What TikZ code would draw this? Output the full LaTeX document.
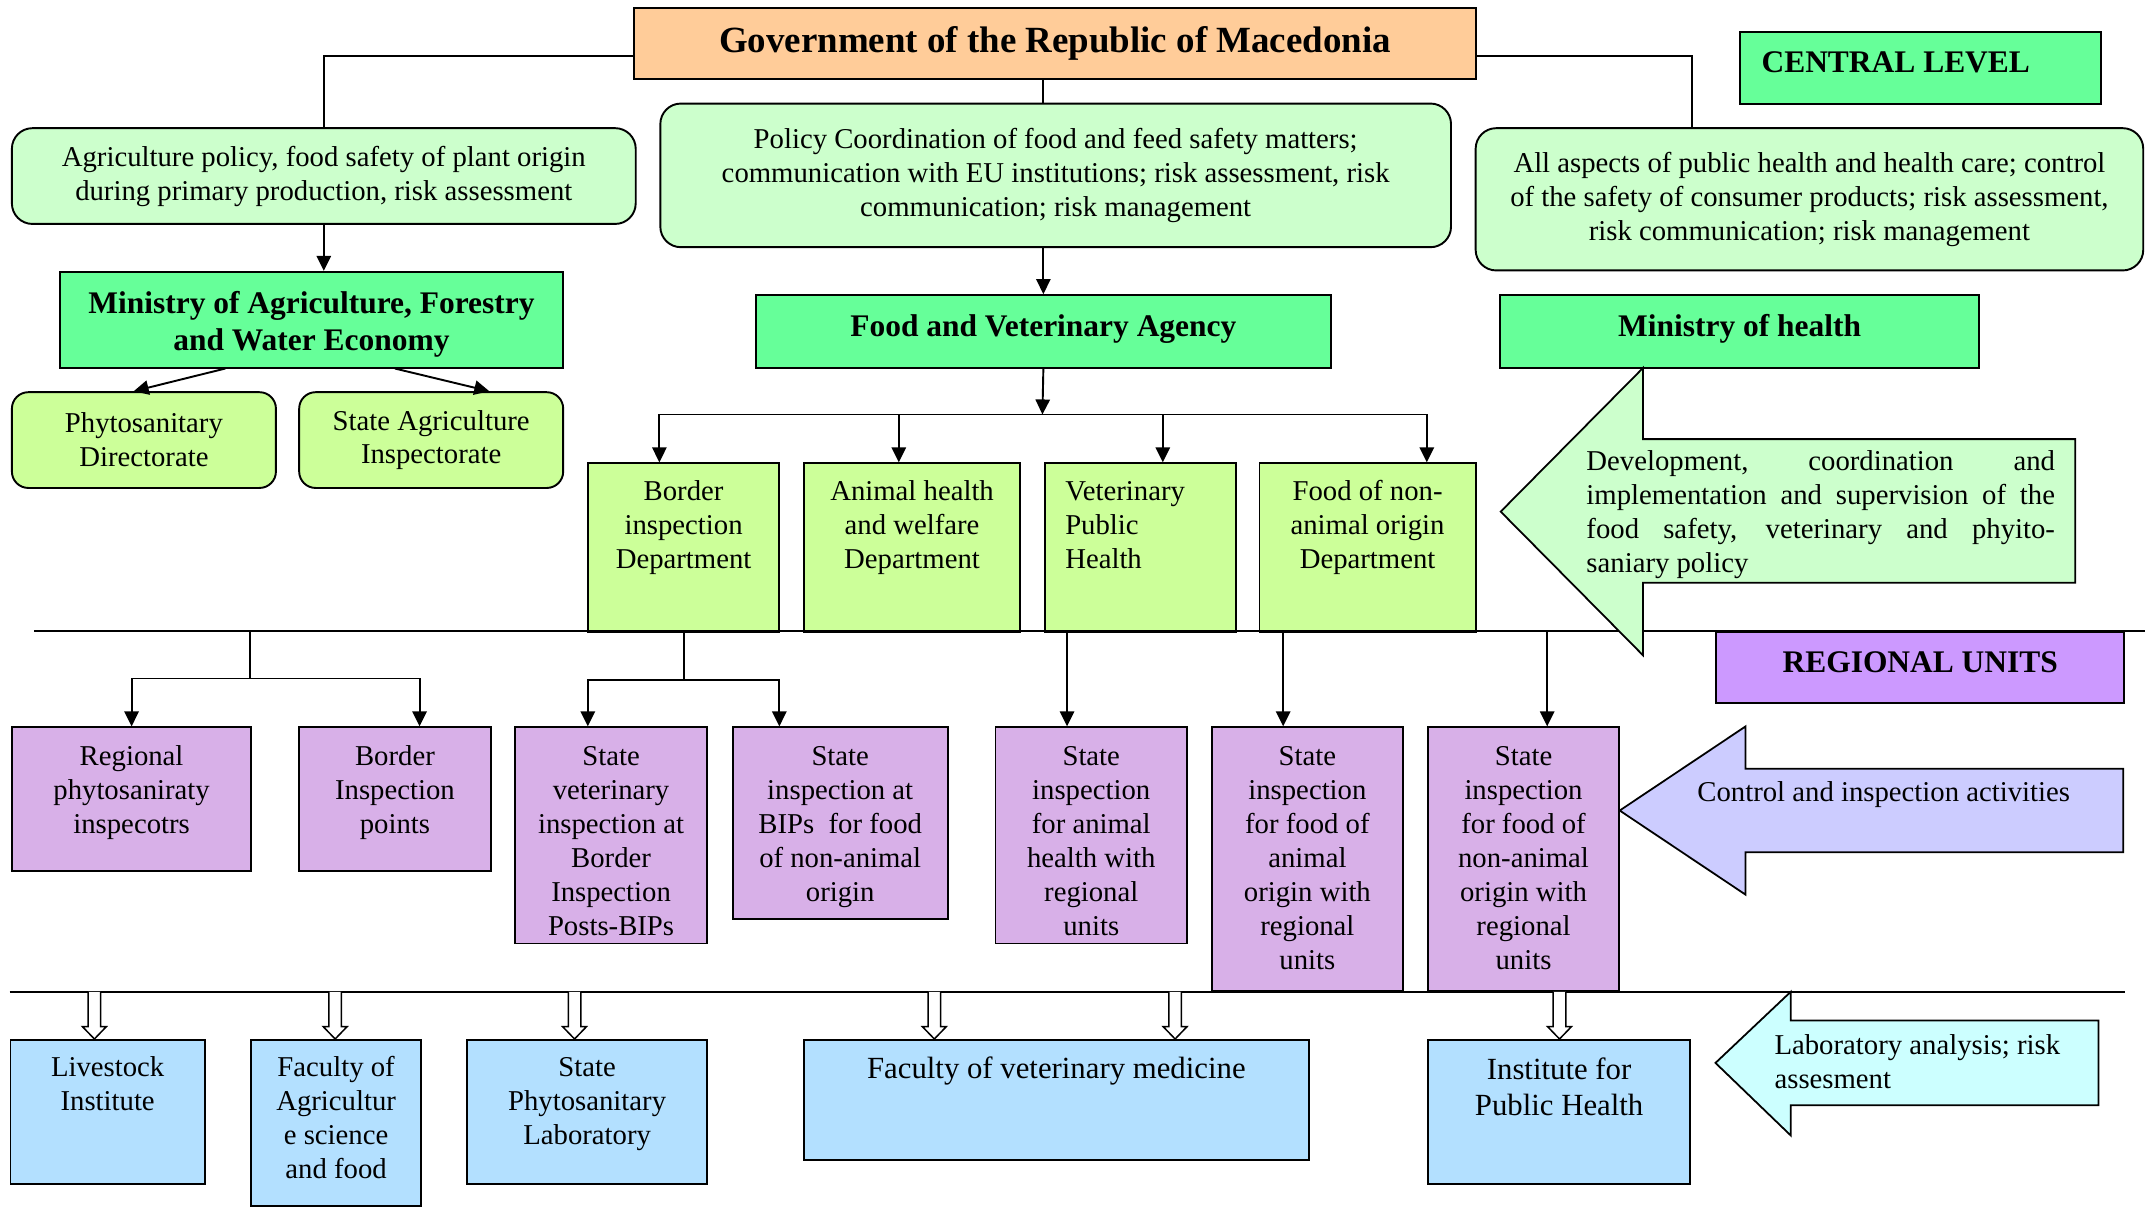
\documentclass[tikz,border=0pt]{standalone}
\usepackage{fontspec}
\setmainfont{Liberation Serif}
\usetikzlibrary{arrows.meta,calc}
\definecolor{govc}{HTML}{FFCC99}
\definecolor{grn}{HTML}{66FF99}
\definecolor{lgrn}{HTML}{CCFFCC}
\definecolor{ygrn}{HTML}{CCFF99}
\definecolor{purp}{HTML}{D8B0E8}
\definecolor{regc}{HTML}{CC99FF}
\definecolor{ctrl}{HTML}{CCCCFF}
\definecolor{labc}{HTML}{CCFFFF}
\definecolor{blu}{HTML}{B3E0FF}
\newcommand{\tbx}[4]{\parbox[c][#2][t]{#1}{\centering\rule{0pt}{#3}#4\par}}
\newcommand{\tbl}[5]{\parbox[c][#2][t]{#1}{\raggedright\leftskip=#5\rule{0pt}{#3}#4\par}}
\newcommand{\hol}[1]{\draw[hol,shift={(#1,725)}] (-4.6,0) -- (-4.6,25.5) -- (-8.7,25.5) -- (0,34.5) -- (8.7,25.5) -- (4.6,25.5) -- (4.6,0);}
\begin{document}
\begin{tikzpicture}[x=1pt,y=-1pt,
  bx/.style={draw=black,line width=1.4pt,inner sep=0pt,anchor=north west},
  rbx/.style={bx,rounded corners=15pt,align=center},
  reg/.style={font={\fontsize{21}{24.8}\selectfont}},
  big/.style={font={\fontsize{22.5}{26}\selectfont}},
  hd/.style={font={\fontsize{23}{26.8}\selectfont\bfseries}},
  con/.style={line width=1.4pt},
  arr/.style={con,-{Triangle[length=11pt,width=10.5pt]}},
  hol/.style={line width=1.1pt,fill=white},
  bigarrow/.style={draw=black,line width=1.3pt},
]
\useasboundingbox (0,0) rectangle (1568,882);

% ---- central level ----
\node[bx,fill=govc,minimum width=615pt,minimum height=52pt,font={\fontsize{27}{30}\selectfont\bfseries}] (gov) at (463,5) {Government of the Republic of Macedonia};
\node[bx,fill=grn,hd] (central) at (1271,23) {\tbl{264pt}{52pt}{29pt}{CENTRAL LEVEL}{16pt}};

\node[rbx,fill=lgrn,reg,minimum width=456pt,minimum height=70pt] (agri) at (8,93) {Agriculture policy, food safety of plant origin\\during primary production, risk assessment};
\node[rbx,fill=lgrn,reg,minimum width=578pt,minimum height=105pt] (policy) at (482,75) {Policy Coordination of food and feed safety matters;\\communication with EU institutions; risk assessment, risk\\communication; risk management};
\node[rbx,fill=lgrn,reg,minimum width=488pt,minimum height=104pt] (health) at (1078,93) {All aspects of public health and health care; control\\of the safety of consumer products; risk assessment,\\risk communication; risk management};

\node[bx,fill=grn,hd] (mafwe) at (43,198) {\tbx{368pt}{70pt}{30.5pt}{Ministry of Agriculture, Forestry\\and Water Economy}};
\node[bx,fill=grn,hd] (fva) at (552,215) {\tbx{420pt}{53pt}{30pt}{Food and Veterinary Agency}};
\node[bx,fill=grn,hd] (moh) at (1096,215) {\tbx{350pt}{53pt}{30pt}{Ministry of health}};

\node[rbx,rounded corners=12pt,fill=ygrn,reg,minimum width=193pt,minimum height=70pt] (phyto) at (8,286) {Phytosanitary\\Directorate};
\node[rbx,rounded corners=12pt,fill=ygrn,reg,minimum width=193pt,minimum height=70pt] (sai) at (218,286) {State Agriculture\\Inspectorate};

\node[bx,fill=ygrn,reg] (border) at (429,338) {\tbx{140pt}{123pt}{27.5pt}{Border\\inspection\\Department}};
\node[bx,fill=ygrn,reg] (animal) at (587,338) {\tbx{158pt}{123pt}{27.5pt}{Animal health\\and welfare\\Department}};
\node[bx,fill=ygrn,reg] (vph) at (763,338) {\tbl{140pt}{123pt}{27.5pt}{Veterinary\\Public\\Health}{15pt}};
\node[bx,fill=ygrn,reg] (fnao) at (920,338) {\tbx{158pt}{123pt}{27.5pt}{Food of non-\\animal origin\\Department}};

% ---- connectors, central ----
\draw[con] ([yshift=-9pt]gov.west) -| (agri.north);
\draw[con] ([yshift=-9pt]gov.east) -| ([xshift=-86pt]health.north);
\draw[con] (gov.south -| fva.north) -- (policy.north -| fva.north);
\draw[arr] (policy.south -| fva.north) -- (fva.north);
\draw[arr] (agri.south) -- (agri.south |- mafwe.north);
\draw[arr] ([xshift=-63pt]mafwe.south) -- ([xshift=-7.5pt]phyto.north);
\draw[arr] ([xshift=61pt]mafwe.south) -- ([xshift=42.5pt]sai.north);

\coordinate (bus) at (762,303);
\coordinate (d1) at (482,303);
\coordinate (d2) at (657,303);
\coordinate (d3) at (850,303);
\coordinate (d4) at (1043,303);
\draw[arr] (fva.south) -- (bus);
\draw[con] (d1) -- (d4);
\draw[arr] (d1) -- (d1 |- border.north);
\draw[arr] (d2) -- (d2 |- animal.north);
\draw[arr] (d3) -- (d3 |- vph.north);
\draw[arr] (d4) -- (d4 |- fnao.north);

% ---- regional level ----
\coordinate (rl0) at (25,461);
\coordinate (rl1) at (1568,461);
\draw[con] (rl0) -- (rl1);

\node[bx,fill=regc,hd] (regional) at (1254,461) {\tbx{298pt}{52pt}{30pt}{REGIONAL UNITS}};

\node[bx,fill=purp,reg] (p1) at (8,531) {\tbx{175pt}{105pt}{28pt}{Regional\\phytosaniraty\\inspecotrs}};
\node[bx,fill=purp,reg] (p2) at (218,531) {\tbx{140pt}{105pt}{28pt}{Border\\Inspection\\points}};
\node[bx,fill=purp,reg] (p3) at (376,531) {\tbx{140pt}{158pt}{28pt}{State\\veterinary\\inspection at\\Border\\Inspection\\Posts-BIPs}};
\node[bx,fill=purp,reg] (p4) at (535,531) {\tbx{157pt}{140pt}{28pt}{State\\inspection at\\BIPs\ \ for food\\of non-animal\\origin}};
\node[bx,fill=purp,reg] (p5) at (727,531) {\tbx{140pt}{158pt}{28pt}{State\\inspection\\for animal\\health with\\regional\\units}};
\node[bx,fill=purp,reg] (p6) at (885,531) {\tbx{140pt}{193pt}{28pt}{State\\inspection\\for food of\\animal\\origin with\\regional\\units}};
\node[bx,fill=purp,reg] (p7) at (1043,531) {\tbx{140pt}{193pt}{28pt}{State\\inspection\\for food of\\non-animal\\origin with\\regional\\units}};

\coordinate (j1) at (183,461);
\draw[con] (j1) -- ++(0,35) coordinate (j1b);
\draw[arr] (j1b) -| (p1.north);
\draw[arr] (j1b) -| ([xshift=18pt]p2.north);
\draw[con] (border.south) -- ++(0,35) coordinate (j2);
\draw[arr] (j2) -| ([xshift=-17pt]p3.north);
\draw[arr] (j2) -| ([xshift=-44.5pt]p4.north);
\coordinate (r5) at (780,461);
\coordinate (r6) at (938,461);
\coordinate (r7) at (1131,461);
\draw[arr] (r5) -- (r5 |- p5.north);
\draw[arr] (r6) -- (r6 |- p6.north);
\draw[arr] (r7) -- (r7 |- p7.north);

% big green arrow
\draw[bigarrow,fill=lgrn] (1097,374) -- (1201,269) -- (1201,321) -- (1517,321) -- (1517,426) -- (1201,426) -- (1201,479) -- cycle;
\node[reg,anchor=base west,inner sep=0pt] (devtxt) at (1159.5,344) {\parbox[t]{342.5pt}{%
\makebox[\linewidth][s]{Development,\hfill coordination\hfill and}\par
\makebox[\linewidth][s]{implementation and supervision of the}\par
\makebox[\linewidth][s]{food safety, veterinary and phyito-}\par
saniary policy}};

% control arrow
\draw[bigarrow,fill=ctrl] (1184,592.5) -- (1276,531) -- (1276,562) -- (1552,562) -- (1552,623) -- (1276,623) -- (1276,654) -- cycle;
\node[reg,anchor=base west,inner sep=0pt] (ctrltxt) at (1240.6,586) {Control and inspection activities};

% ---- laboratory level ----
\coordinate (bl0) at (7,725);
\coordinate (bl1) at (1553,725);
\draw[con] (bl0) -- (bl1);

\node[bx,fill=blu,reg] (b1) at (7,759.5) {\tbx{142pt}{105pt}{27pt}{Livestock\\Institute}};
\node[bx,fill=blu,reg] (b2) at (183,759.5) {\tbx{124pt}{121.5pt}{27pt}{Faculty of\\Agricultur\\e science\\and food}};
\node[bx,fill=blu,reg] (b3) at (341,759.5) {\tbx{175pt}{105pt}{27pt}{State\\Phytosanitary\\Laboratory}};
\node[bx,fill=blu,big] (b4) at (587,759.5) {\tbx{369pt}{88pt}{28.5pt}{Faculty of veterinary medicine}};
\node[bx,fill=blu,big] (b5) at (1043,759.5) {\tbx{192pt}{105pt}{29pt}{Institute for\\Public Health}};

\hol{69}
\hol{245}
\hol{420}
\hol{683}
\hol{859}
\hol{1140}

% lab arrow
\draw[bigarrow,fill=labc] (1254,777) -- (1309,725) -- (1309,746) -- (1534,746) -- (1534,808) -- (1309,808) -- (1309,830) -- cycle;
\node[reg,anchor=base west,inner sep=0pt] (labtxt) at (1297,771) {\parbox[t]{230pt}{\raggedright Laboratory analysis; risk\\assesment}};
\end{tikzpicture}
\end{document}
